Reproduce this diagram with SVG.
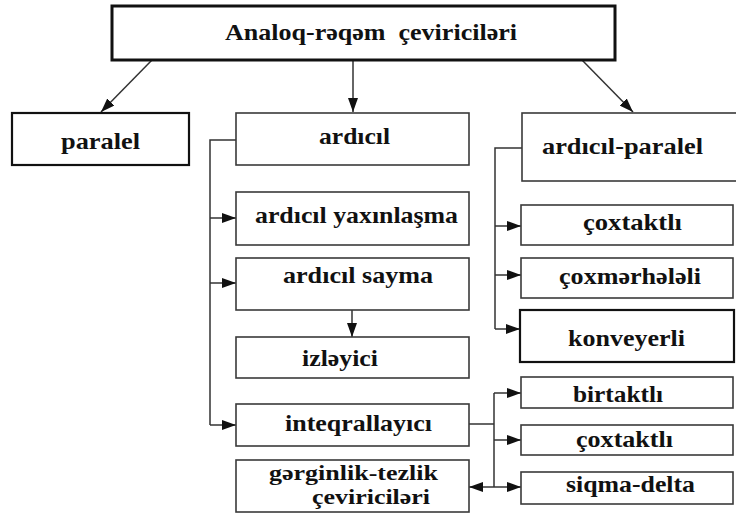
<svg xmlns="http://www.w3.org/2000/svg" width="736" height="514" viewBox="0 0 736 514">
<defs>
<marker id="ah" viewBox="0 0 14 10" refX="14" refY="5" markerWidth="14" markerHeight="10" markerUnits="userSpaceOnUse" orient="auto">
<path d="M0,0 L14,5 L0,10 z" fill="#111"/>
</marker>
<style>
.box{fill:#fff;stroke:#3a3a3a;stroke-width:1.6}
.bold{fill:#fff;stroke:#111;stroke-width:2.2}
.title{fill:#fff;stroke:#111;stroke-width:3}
.t{font-family:"Liberation Serif","Times New Roman",serif;font-weight:bold;font-size:24px;fill:#111}
.s{font-size:20px}
.c{fill:none;stroke:#333;stroke-width:1.5}
.a{marker-end:url(#ah)}
</style>
</defs>
<rect width="736" height="514" fill="#fff"/>
<g id="connectors">
<line class="c a" x1="152" y1="60" x2="101" y2="112"/>
<line class="c a" x1="353" y1="60" x2="353" y2="112"/>
<line class="c a" x1="582" y1="60" x2="633" y2="112"/>
<polyline class="c" points="236,140 210,140 210,425"/>
<line class="c a" x1="210" y1="218" x2="236" y2="218"/>
<line class="c a" x1="210" y1="283" x2="236" y2="283"/>
<line class="c a" x1="210" y1="425" x2="236" y2="425"/>
<line class="c a" x1="352" y1="310" x2="352" y2="337"/>
<polyline class="c" points="522,148 495,148 495,329"/>
<line class="c a" x1="495" y1="226" x2="521" y2="226"/>
<line class="c a" x1="495" y1="275" x2="521" y2="275"/>
<line class="c a" x1="495" y1="329" x2="520" y2="329"/>
<line class="c" x1="469" y1="424" x2="494" y2="424"/>
<line class="c" x1="494" y1="393" x2="494" y2="487"/>
<line class="c a" x1="494" y1="393" x2="521" y2="393"/>
<line class="c a" x1="494" y1="440" x2="521" y2="440"/>
<line class="c a" x1="494" y1="487" x2="521" y2="487"/>
<line class="c a" x1="494" y1="487" x2="469" y2="487"/>
</g>
<g id="n-title"><rect class="title" x="112" y="6" width="503" height="54"/><text class="t" x="225" y="40" textLength="292" lengthAdjust="spacingAndGlyphs" xml:space="preserve">Analoq-rəqəm  çeviriciləri</text></g>
<g id="n-paralel"><rect class="bold" x="12" y="113" width="177" height="52"/><text class="t" x="61" y="149" textLength="79" lengthAdjust="spacingAndGlyphs">paralel</text></g>
<g id="n-ardicil"><rect class="box" x="236" y="113" width="233" height="52"/><text class="t" x="319" y="144" textLength="71" lengthAdjust="spacingAndGlyphs">ardıcıl</text></g>
<g id="n-ardicil-paralel"><rect class="box" x="522" y="113" width="240" height="68"/><text class="t" x="542" y="154" textLength="161" lengthAdjust="spacingAndGlyphs">ardıcıl-paralel</text></g>
<g id="n-yaxinlasma"><rect class="box" x="236" y="192" width="233" height="53"/><text class="t" x="255" y="223" textLength="203" lengthAdjust="spacingAndGlyphs">ardıcıl yaxınlaşma</text></g>
<g id="n-coxtaktli1"><rect class="box" x="521" y="205" width="212" height="40"/><text class="t" x="583" y="230" textLength="99" lengthAdjust="spacingAndGlyphs">çoxtaktlı</text></g>
<g id="n-sayma"><rect class="box" x="236" y="258" width="233" height="52"/><text class="t" x="283" y="283" textLength="150" lengthAdjust="spacingAndGlyphs">ardıcıl sayma</text></g>
<g id="n-coxmerheleli"><rect class="box" x="521" y="258" width="212" height="40"/><text class="t" x="559" y="284" textLength="142" lengthAdjust="spacingAndGlyphs">çoxmərhələli</text></g>
<g id="n-konveyerli"><rect class="bold" x="520" y="310" width="214" height="52"/><text class="t" x="568" y="346" textLength="117" lengthAdjust="spacingAndGlyphs">konveyerli</text></g>
<g id="n-izleyici"><rect class="box" x="236" y="337" width="233" height="41"/><text class="t" x="302" y="366" textLength="76" lengthAdjust="spacingAndGlyphs">izləyici</text></g>
<g id="n-birtaktli"><rect class="box" x="521" y="377" width="212" height="31"/><text class="t" x="573" y="402" textLength="90" lengthAdjust="spacingAndGlyphs">birtaktlı</text></g>
<g id="n-inteqrallayici"><rect class="box" x="236" y="404" width="233" height="42"/><text class="t" x="285" y="431" textLength="147" lengthAdjust="spacingAndGlyphs">inteqrallayıcı</text></g>
<g id="n-coxtaktli2"><rect class="box" x="521" y="425" width="212" height="30"/><text class="t" x="576" y="447" textLength="97" lengthAdjust="spacingAndGlyphs">çoxtaktlı</text></g>
<g id="n-gerginlik"><rect class="box" x="236" y="460" width="233" height="52"/><text class="t s" x="269" y="480" textLength="169" lengthAdjust="spacingAndGlyphs">gərginlik-tezlik</text><text class="t s" x="312" y="504" textLength="118" lengthAdjust="spacingAndGlyphs">çeviriciləri</text></g>
<g id="n-siqma-delta"><rect class="box" x="521" y="472" width="212" height="32"/><text class="t" x="566" y="492" textLength="129" lengthAdjust="spacingAndGlyphs">siqma-delta</text></g>
</svg>
